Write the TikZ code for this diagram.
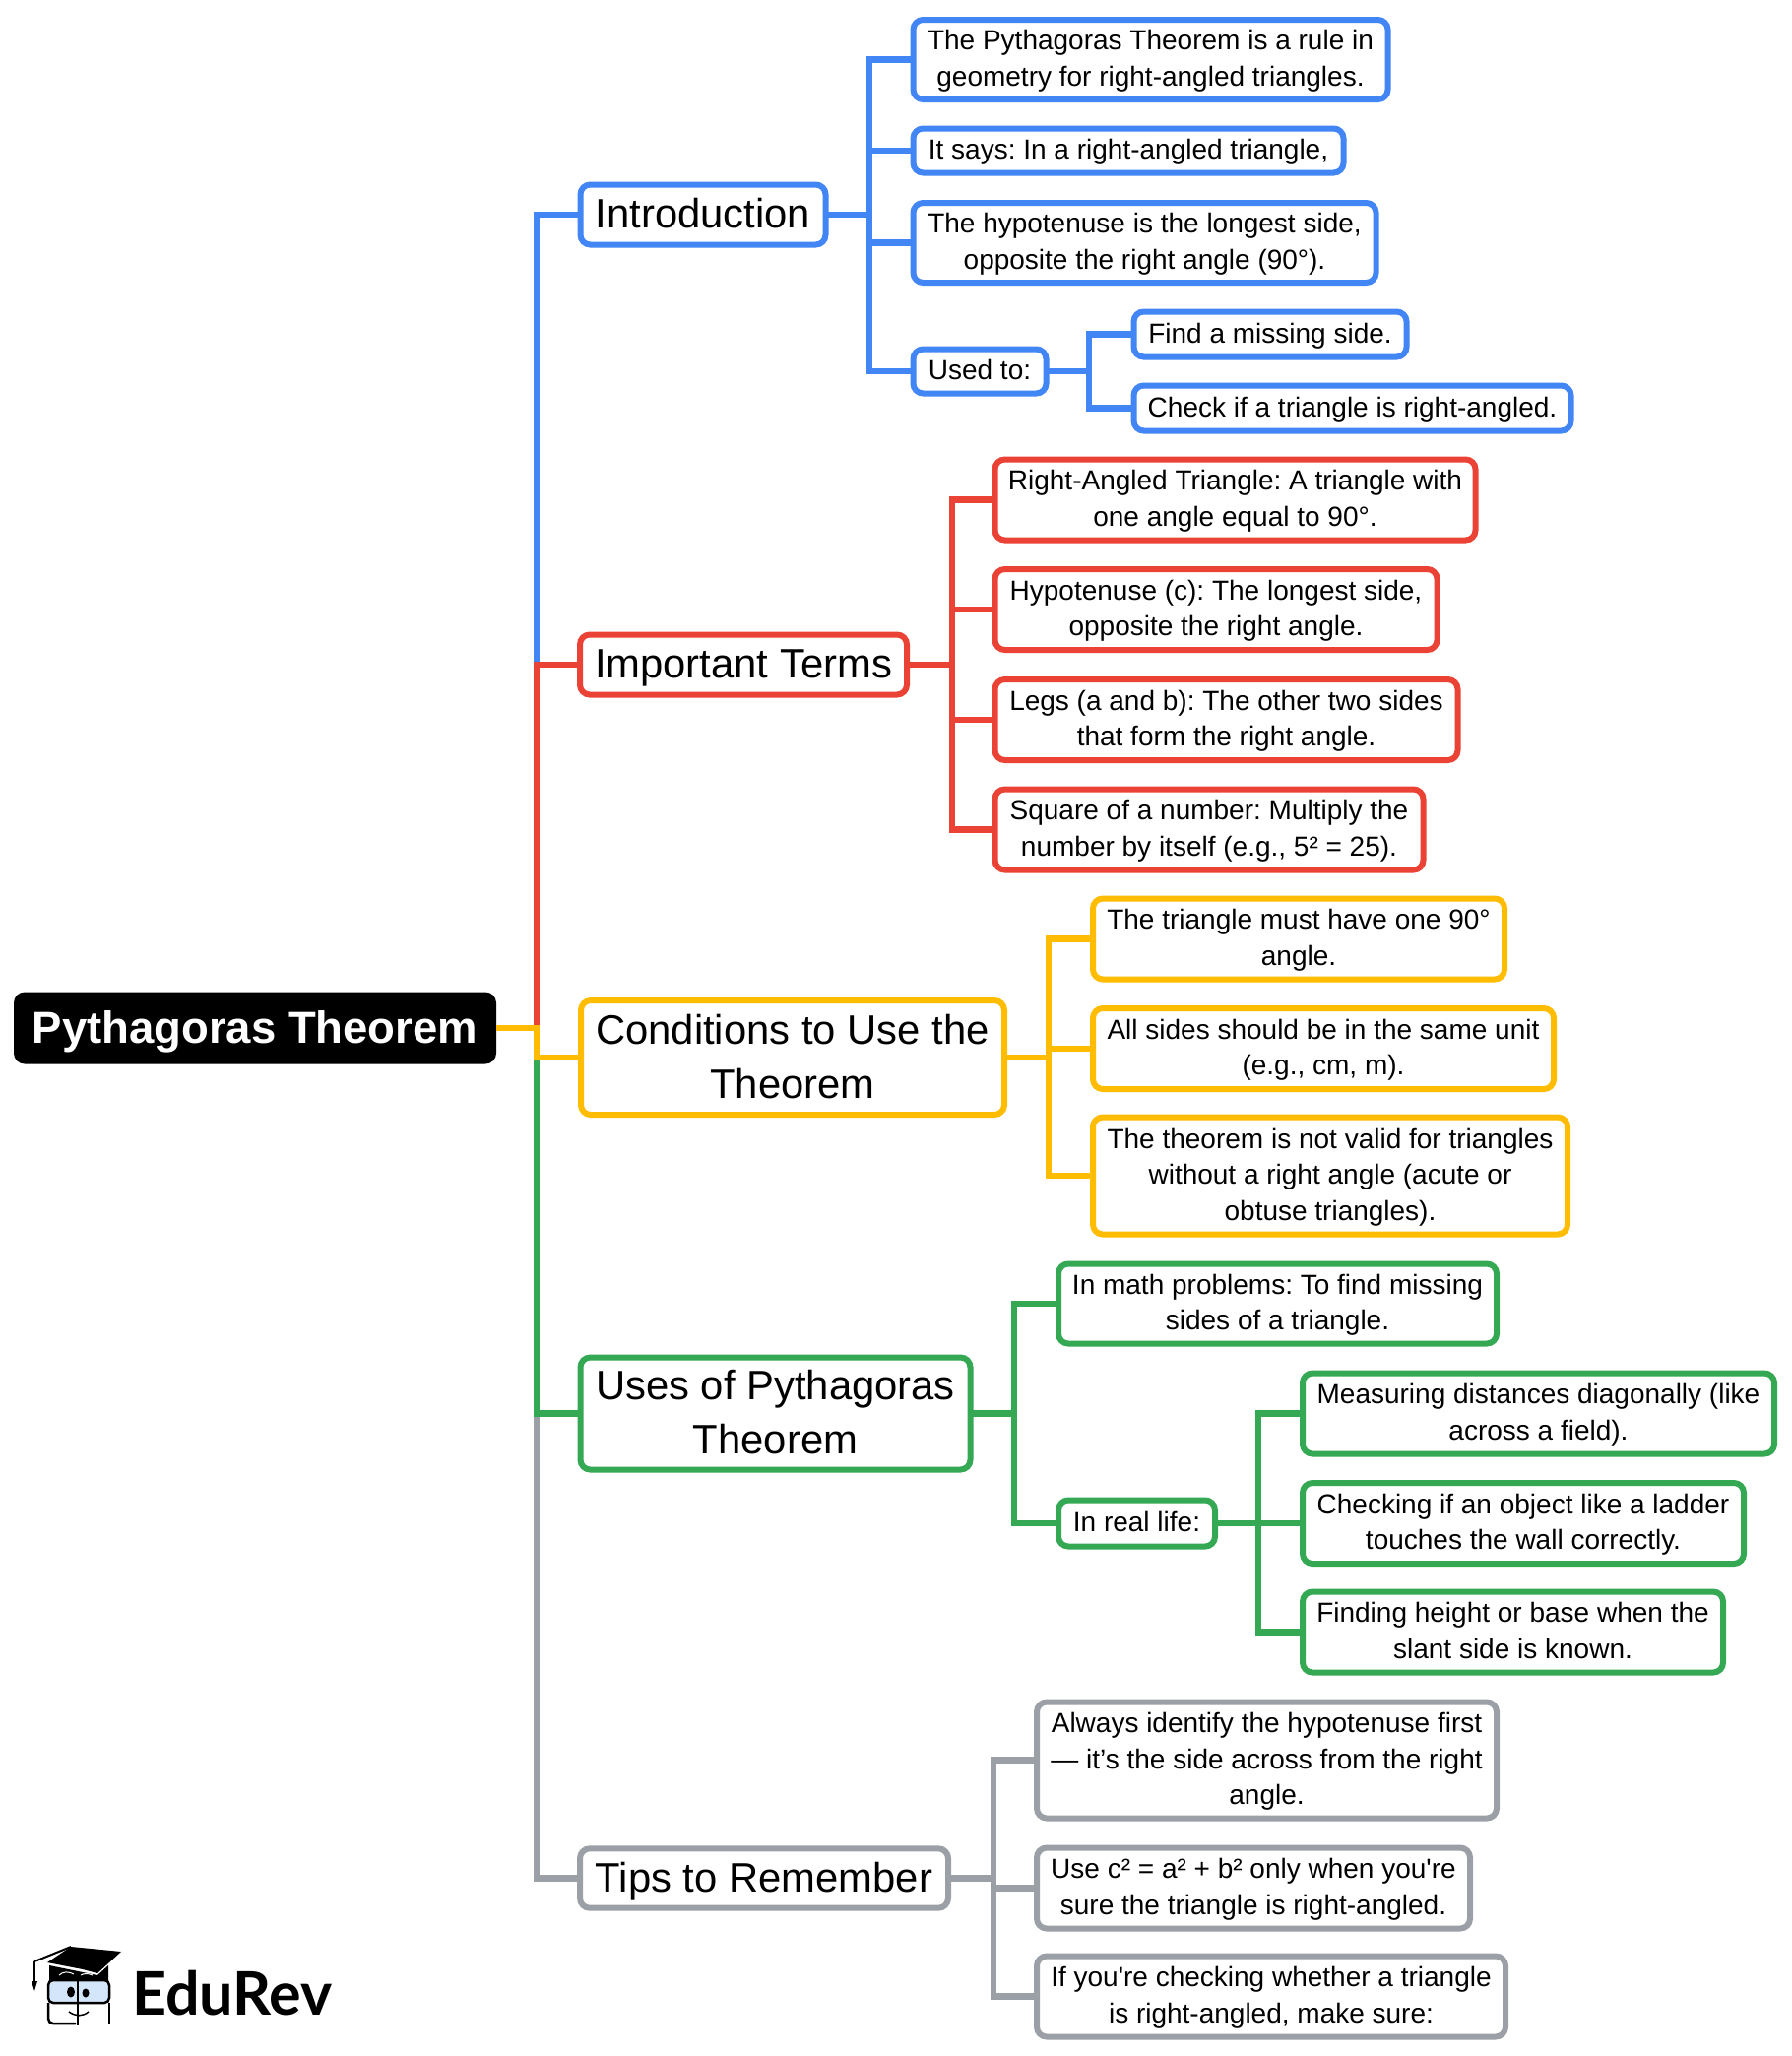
\documentclass[tikz,border=0pt]{standalone}
\usepackage{fontspec}
\setmainfont[Ligatures=TeXOff]{Liberation Sans}
\newfontfamily\logofont{Lato}
\usepackage{xcolor}
\definecolor{mapblue}{HTML}{4285F4}
\definecolor{mapred}{HTML}{EA4335}
\definecolor{mapyellow}{HTML}{FFBC00}
\definecolor{mapgreen}{HTML}{34A853}
\definecolor{mapgrey}{HTML}{9AA0A6}
\definecolor{lensblue}{HTML}{D4E6FA}
\tikzset{
  textdrop/.style={execute at begin node={\rule{0pt}{#1pt}}},
  rootbox/.style={fill=black, text=white, rounded corners=11pt, inner sep=0pt, outer sep=0pt, align=center,
    font=\fontsize{45.5}{55}\selectfont\bfseries, textdrop=40},
  topicbase/.style={draw, line width=6pt, fill=white, rounded corners=10pt, inner sep=0pt, outer sep=0pt, align=center,
    font=\fontsize{41.8}{55}\selectfont\frenchspacing},
  topic/.style={topicbase, text depth=3.3pt},
  shorttopic/.style={topicbase, execute at begin node=\strut, execute at end node=\strut, textdrop=43.9},
  leafbase/.style={draw, line width=6pt, fill=white, rounded corners=10pt, inner sep=0pt, outer sep=0pt, align=center,
    font=\fontsize{28}{36.6}\selectfont\frenchspacing},
  leaf/.style={leafbase, text depth=3pt},
  shortleaf/.style={leafbase, execute at begin node=\strut, execute at end node=\strut, textdrop=28.2},
  conn/.style={line width=6.5pt},
}
\begin{document}
\begin{tikzpicture}[x=1pt, y=-1pt]
  \useasboundingbox (0,0) rectangle (1820,2088);
  % root
  \node[rootbox, minimum width=490, minimum height=73] (root) at (259,1044) {Pythagoras Theorem};
  \coordinate (spine) at (545,1044);
  % main topics
  \node[shorttopic, draw=mapblue, minimum width=249, minimum height=61] (intro) at (714,218) {Introduction};
  \node[shorttopic, draw=mapred, minimum width=332, minimum height=61] (terms) at (755,675) {Important Terms};
  \node[topic, draw=mapyellow, minimum width=430, minimum height=116] (cond) at (805,1074) {Conditions to Use the\\Theorem};
  \node[topic, draw=mapgreen, minimum width=396, minimum height=114] (uses) at (787.5,1435.5) {Uses of Pythagoras\\Theorem};
  \node[shorttopic, draw=mapgrey, minimum width=374, minimum height=60] (tips) at (776,1907.5) {Tips to Remember};
  % introduction
  \node[leaf, draw=mapblue, minimum width=482, minimum height=81] (def) at (1168.5,60.5) {The Pythagoras Theorem is a rule in\\geometry for right-angled triangles.};
  \node[shortleaf, draw=mapblue, minimum width=437, minimum height=45] (says) at (1146,153) {It says: In a right-angled triangle,};
  \node[leaf, draw=mapblue, minimum width=470, minimum height=81] (hypo) at (1162.5,246.5) {The hypotenuse is the longest side,\\opposite the right angle (90°).};
  \node[shortleaf, draw=mapblue, minimum width=135, minimum height=45] (used) at (995,377) {Used to:};
  \node[shortleaf, draw=mapblue, minimum width=277, minimum height=46] (find) at (1290,339.5) {Find a missing side.};
  \node[shortleaf, draw=mapblue, minimum width=444, minimum height=46] (check) at (1373.5,414.5) {Check if a triangle is right-angled.};
  % important terms
  \node[leaf, draw=mapred, minimum width=488, minimum height=82] (tri) at (1254.5,507.5) {Right-Angled Triangle: A triangle with\\one angle equal to 90°.};
  \node[leaf, draw=mapred, minimum width=449, minimum height=82] (hyp) at (1235,619) {Hypotenuse (c): The longest side,\\opposite the right angle.};
  \node[leaf, draw=mapred, minimum width=470, minimum height=82] (legs) at (1245.5,731) {Legs (a and b): The other two sides\\that form the right angle.};
  \node[leaf, draw=mapred, minimum width=435, minimum height=82] (square) at (1228,842.5) {Square of a number: Multiply the\\number by itself (e.g., 5² = 25).};
  % conditions
  \node[leaf, draw=mapyellow, minimum width=418, minimum height=82] (angle) at (1319,953.5) {The triangle must have one 90°\\angle.};
  \node[leaf, draw=mapyellow, minimum width=468, minimum height=82] (unit) at (1344,1065) {All sides should be in the same unit\\(e.g., cm, m).};
  \node[leaf, draw=mapyellow, minimum width=482, minimum height=119] (valid) at (1351,1194) {The theorem is not valid for triangles\\without a right angle (acute or\\obtuse triangles).};
  % uses
  \node[leaf, draw=mapgreen, minimum width=445, minimum height=81] (math) at (1297.5,1324) {In math problems: To find missing\\sides of a triangle.};
  \node[shortleaf, draw=mapgreen, minimum width=159, minimum height=47] (life) at (1154.5,1547) {In real life:};
  \node[leaf, draw=mapgreen, minimum width=479, minimum height=82] (dist) at (1562.5,1435.5) {Measuring distances diagonally (like\\across a field).};
  \node[leaf, draw=mapgreen, minimum width=448, minimum height=82] (ladder) at (1547,1547) {Checking if an object like a ladder\\touches the wall correctly.};
  \node[leaf, draw=mapgreen, minimum width=427, minimum height=82] (height) at (1536.5,1657.5) {Finding height or base when the\\slant side is known.};
  % tips
  \node[leaf, draw=mapgrey, minimum width=467, minimum height=118] (first) at (1286.5,1787.5) {Always identify the hypotenuse first\\— it’s the side across from the right\\angle.};
  \node[leaf, draw=mapgrey, minimum width=440, minimum height=82] (only) at (1273,1917.5) {Use c² = a² + b² only when you're\\sure the triangle is right-angled.};
  \node[leaf, draw=mapgrey, minimum width=476, minimum height=82] (sure) at (1291,2027.5) {If you're checking whether a triangle\\is right-angled, make sure:};
  % connectors
  \draw[conn, mapblue] (root.east) -- (spine) |- (intro.west);
  \draw[conn, mapblue] (intro.east) -- (883,218) |- (def.west);
  \draw[conn, mapblue] (intro.east) -- (883,218) |- (says.west);
  \draw[conn, mapblue] (intro.east) -- (883,218) |- (hypo.west);
  \draw[conn, mapblue] (intro.east) -- (883,218) |- (used.west);
  \draw[conn, mapblue] (used.east) -- (1106,377) |- (find.west);
  \draw[conn, mapblue] (used.east) -- (1106,377) |- (check.west);
  \draw[conn, mapred] (root.east) -- (spine) |- (terms.west);
  \draw[conn, mapred] (terms.east) -- (967,675) |- (tri.west);
  \draw[conn, mapred] (terms.east) -- (967,675) |- (hyp.west);
  \draw[conn, mapred] (terms.east) -- (967,675) |- (legs.west);
  \draw[conn, mapred] (terms.east) -- (967,675) |- (square.west);
  \draw[conn, mapgrey] (root.east) -- (spine) |- (tips.west);
  \draw[conn, mapgrey] (tips.east) -- (1009,1907.5) |- (first.west);
  \draw[conn, mapgrey] (tips.east) -- (1009,1907.5) |- (only.west);
  \draw[conn, mapgrey] (tips.east) -- (1009,1907.5) |- (sure.west);
  \draw[conn, mapgreen] (root.east) -- (spine) |- (uses.west);
  \draw[conn, mapgreen] (uses.east) -- (1030,1435.5) |- (math.west);
  \draw[conn, mapgreen] (uses.east) -- (1030,1435.5) |- (life.west);
  \draw[conn, mapgreen] (life.east) -- (1278,1547) |- (dist.west);
  \draw[conn, mapgreen] (life.east) -- (1278,1547) |- (ladder.west);
  \draw[conn, mapgreen] (life.east) -- (1278,1547) |- (height.west);
  \draw[conn, mapyellow] (root.east) -- (spine) |- (cond.west);
  \draw[conn, mapyellow] (cond.east) -- (1065,1074) |- (angle.west);
  \draw[conn, mapyellow] (cond.east) -- (1065,1074) |- (unit.west);
  \draw[conn, mapyellow] (cond.east) -- (1065,1074) |- (valid.west);
  % logo
  \fill (48,1993) -- (72,1977) -- (123,1982) -- (99,2004) -- (84,2000) -- cycle;
  \fill (50,1996) -- (50,2011) -- (110,2011) -- (110,1996) -- (99,2006) -- cycle;
  \draw[line width=1.5pt] (35,1992) -- (35,2012);
  \draw[line width=2pt] (35,1992) -- (72,1977);
  \fill (32,2012) -- (38,2012) -- (35,2022) -- cycle;
  \draw[white, line width=1pt] (60,2006) .. controls (64,2002) and (70,2002) .. (75,2005);
  \draw[white, line width=1pt] (82,2006) .. controls (85,2004) and (90,2004) .. (94,2006);
  \draw[line width=2.5pt, fill=lensblue, rounded corners=5pt] (49,2011) rectangle (111,2034);
  \draw[line width=2.5pt, rounded corners=5pt] (49,2034) -- (49,2055) -- (77,2055);
  \draw[line width=2.5pt, rounded corners=5pt] (111,2034) -- (111,2056);
  \draw[line width=2.5pt] (79,2010) -- (79,2057);
  \fill (72,2023) ellipse (4 and 5.5);
  \fill (87,2024) ellipse (3.5 and 4.5);
  \draw[line width=1.5pt] (70,2043) .. controls (77,2048) and (84,2048) .. (90,2043);
  \node[anchor=base west, inner sep=0pt, font=\fontsize{61}{60}\logofont\bfseries] (logo) at (134,2046) {EduRev};
\end{tikzpicture}
\end{document}
